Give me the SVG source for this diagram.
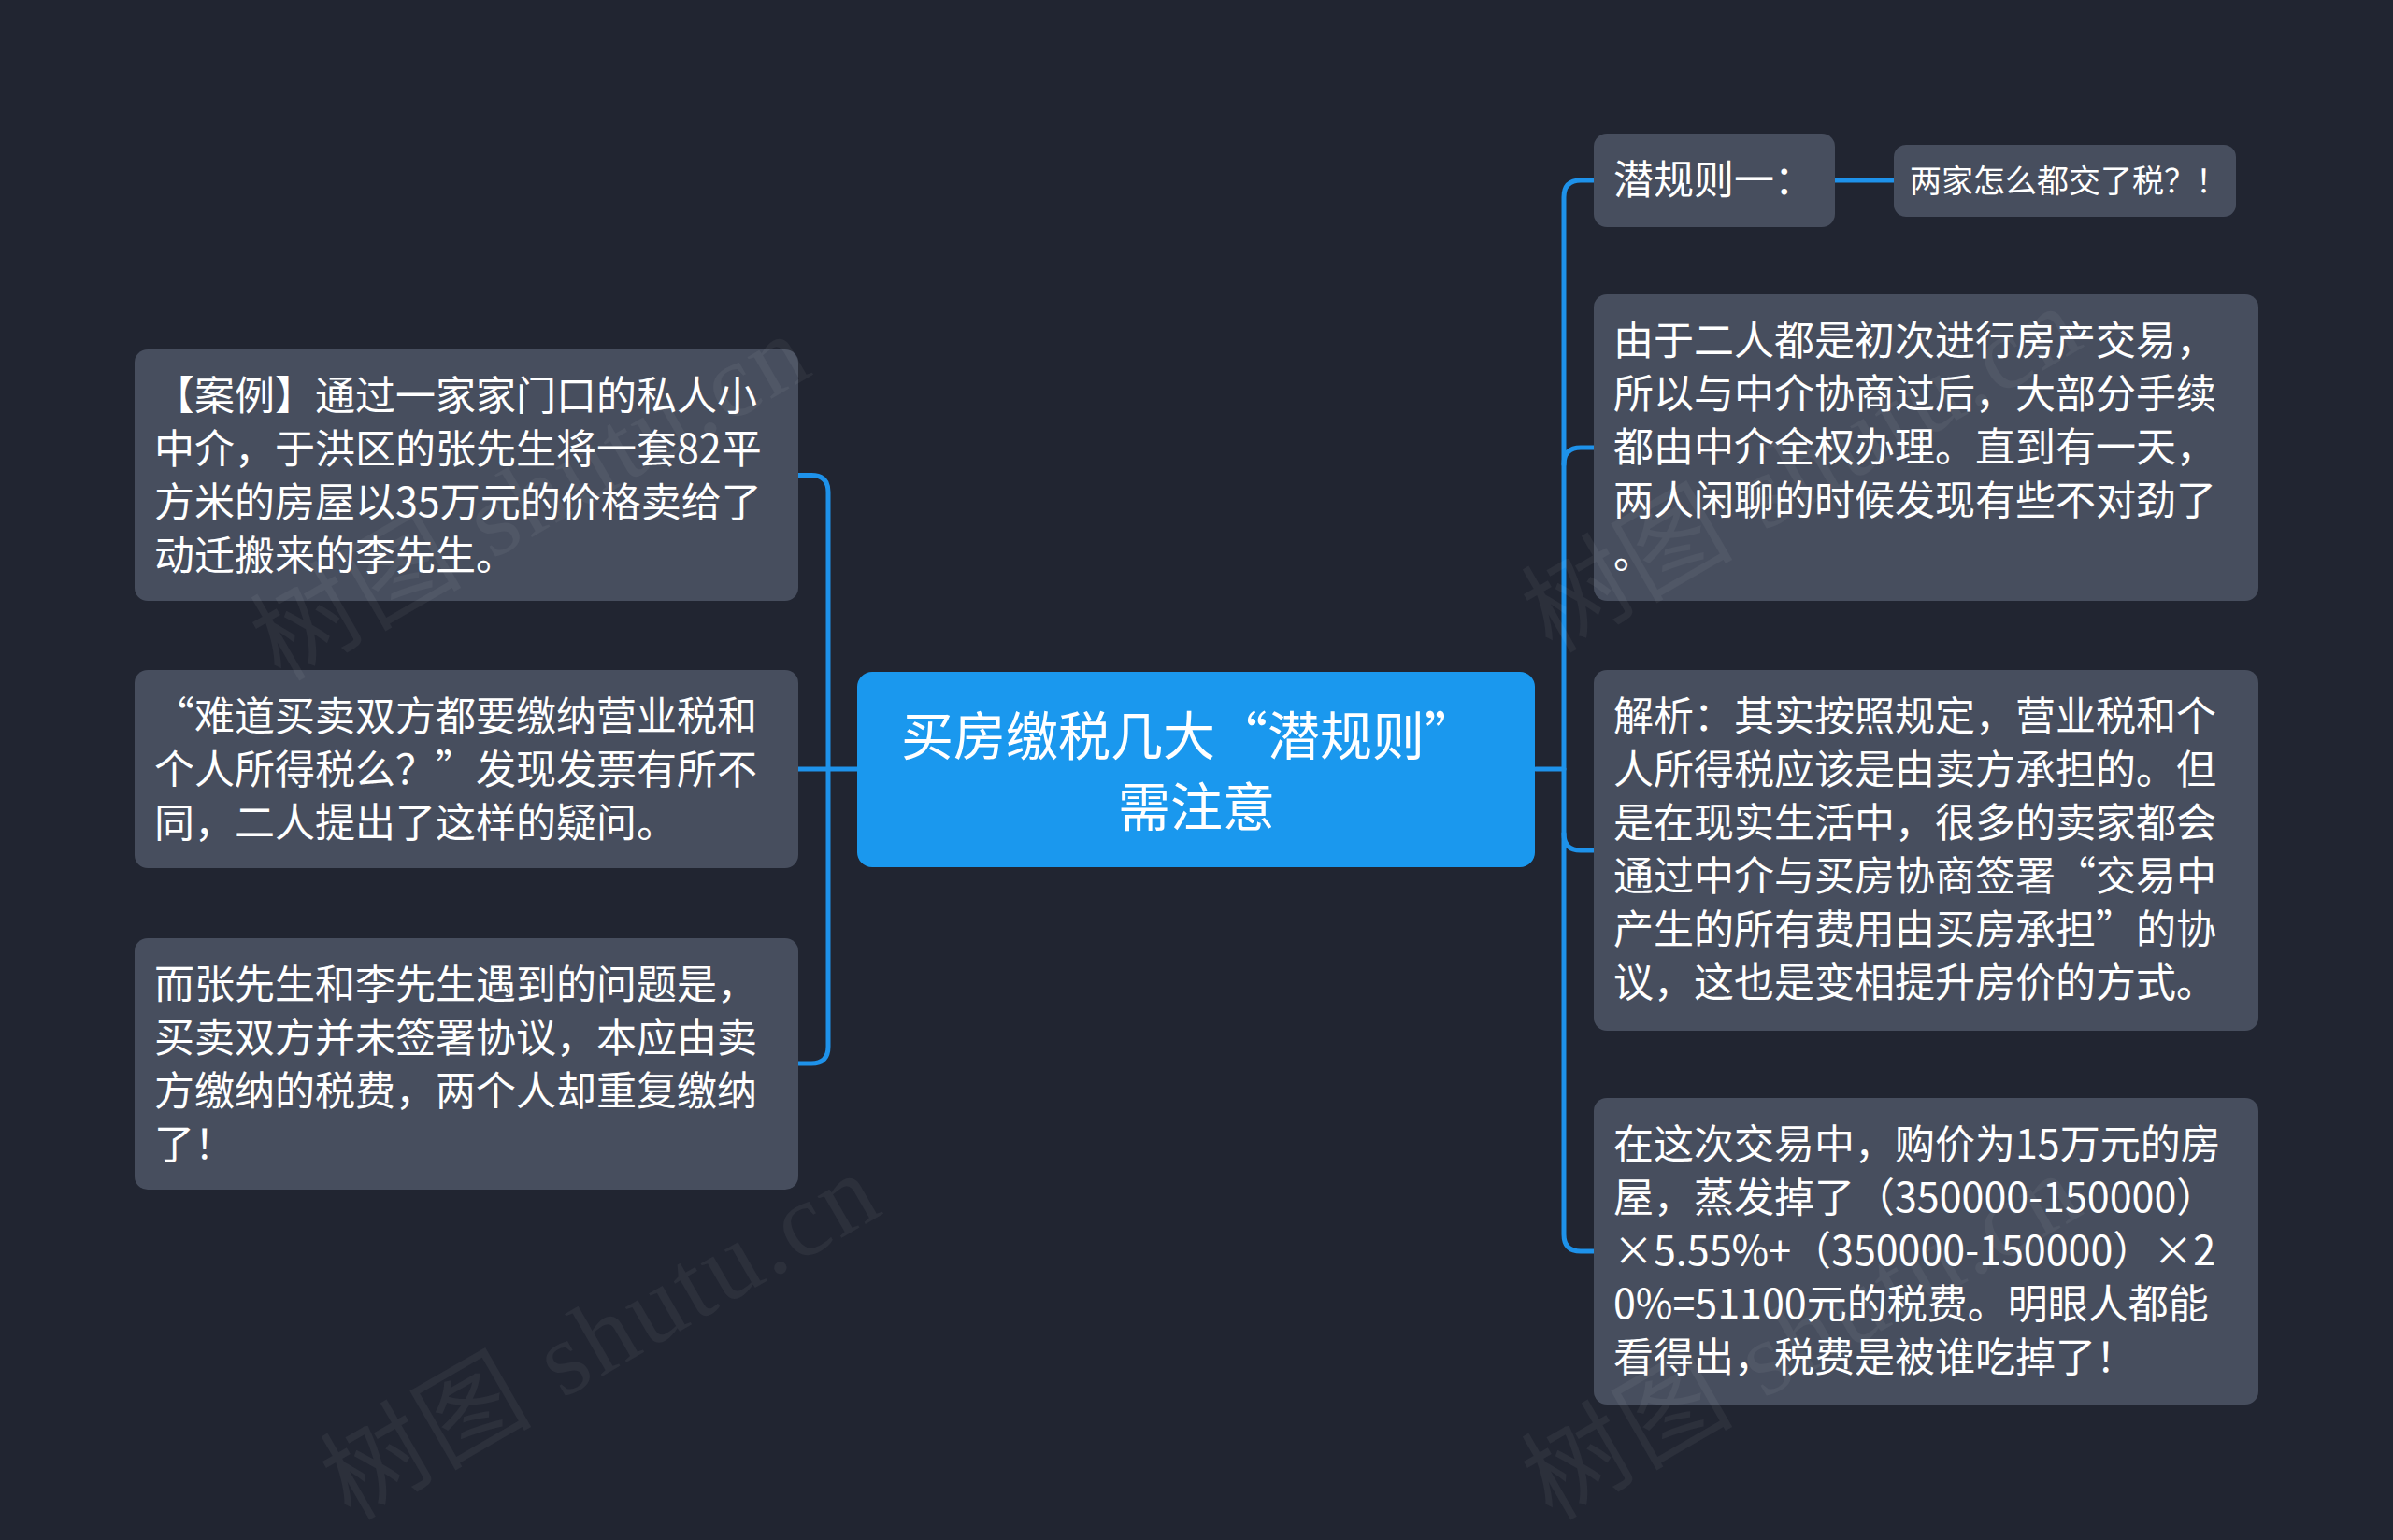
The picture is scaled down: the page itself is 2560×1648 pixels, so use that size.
<svg xmlns="http://www.w3.org/2000/svg" width="2560" height="1648" viewBox="0 0 2560 1648">
<style>
.node{fill:#474e5e}
.root{fill:#1a98ee}
.t{font-family:"Noto Sans CJK SC","Noto Sans",sans-serif;font-size:43px;fill:#ffffff}
.rt{font-family:"Noto Sans CJK SC","Noto Sans",sans-serif;font-size:56px;fill:#ffffff}
.st{font-family:"Noto Sans CJK SC","Noto Sans",sans-serif;font-size:34px;fill:#ffffff}
.conn{fill:none;stroke:#1e92ea;stroke-width:5;stroke-linecap:round}
.wm{font-family:"Liberation Serif","Noto Sans CJK SC",serif;font-size:112px;fill:#ffffff;fill-opacity:0.05}
</style>
<rect width="2560" height="1648" fill="#212531"/>
<g id="connectors">
<path class="conn" d="M854 508.5 H868 Q886 508.5 886 526.5 V1120 Q886 1138 868 1138 H854"/>
<path class="conn" d="M917 823 H854"/>
<path class="conn" d="M1705 193 H1691 Q1673 193 1673 211 V1321 Q1673 1339 1691 1339 H1705"/>
<path class="conn" d="M1673 497 Q1673 479 1691 479 H1705"/>
<path class="conn" d="M1673 892 Q1673 910 1691 910 H1705"/>
<path class="conn" d="M1643 823 H1673"/>
<path class="conn" d="M1963 193 H2026"/>
</g>
<g id="root">
<rect class="root" x="917" y="719" width="725" height="209" rx="16"/>
<text class="rt"><tspan x="964" y="808">买房缴税几大“潜规则”</tspan><tspan x="1280" y="884" text-anchor="middle">需注意</tspan></text>
</g>
<g id="left1">
<rect class="node" x="144" y="374" width="710" height="269" rx="14"/>
<text class="t"><tspan x="165" y="439">【案例】通过一家家门口的私人小</tspan><tspan x="165" y="496">中介，于洪区的张先生将一套82平</tspan><tspan x="165" y="553">方米的房屋以35万元的价格卖给了</tspan><tspan x="165" y="610">动迁搬来的李先生。</tspan></text>
</g>
<g id="left2">
<rect class="node" x="144" y="717" width="710" height="212" rx="14"/>
<text class="t"><tspan x="165" y="782">“难道买卖双方都要缴纳营业税和</tspan><tspan x="165" y="839">个人所得税么？”发现发票有所不</tspan><tspan x="165" y="896">同，二人提出了这样的疑问。</tspan></text>
</g>
<g id="left3">
<rect class="node" x="144" y="1004" width="710" height="269" rx="14"/>
<text class="t"><tspan x="165" y="1069">而张先生和李先生遇到的问题是，</tspan><tspan x="165" y="1126">买卖双方并未签署协议，本应由卖</tspan><tspan x="165" y="1183">方缴纳的税费，两个人却重复缴纳</tspan><tspan x="165" y="1240">了！</tspan></text>
</g>
<g id="right1">
<rect class="node" x="1705" y="143" width="258" height="100" rx="14"/>
<text class="t" x="1726" y="208">潜规则一：</text>
</g>
<g id="right1a">
<rect class="node" x="2026" y="155" width="366" height="77" rx="13"/>
<text class="st" x="2043" y="206">两家怎么都交了税？！</text>
</g>
<g id="right2">
<rect class="node" x="1705" y="315" width="711" height="328" rx="14"/>
<text class="t"><tspan x="1726" y="380">由于二人都是初次进行房产交易，</tspan><tspan x="1726" y="437">所以与中介协商过后，大部分手续</tspan><tspan x="1726" y="494">都由中介全权办理。直到有一天，</tspan><tspan x="1726" y="551">两人闲聊的时候发现有些不对劲了</tspan><tspan x="1726" y="608">。</tspan></text>
</g>
<g id="right3">
<rect class="node" x="1705" y="717" width="711" height="386" rx="14"/>
<text class="t"><tspan x="1726" y="782">解析：其实按照规定，营业税和个</tspan><tspan x="1726" y="839">人所得税应该是由卖方承担的。但</tspan><tspan x="1726" y="896">是在现实生活中，很多的卖家都会</tspan><tspan x="1726" y="953">通过中介与买房协商签署“交易中</tspan><tspan x="1726" y="1010">产生的所有费用由买房承担”的协</tspan><tspan x="1726" y="1067">议，这也是变相提升房价的方式。</tspan></text>
</g>
<g id="right4">
<rect class="node" x="1705" y="1175" width="711" height="328" rx="14"/>
<text class="t"><tspan x="1726" y="1240">在这次交易中，购价为15万元的房</tspan><tspan x="1726" y="1297">屋，蒸发掉了（350000-150000）</tspan><tspan x="1726" y="1354">×5.55%+（350000-150000）×2</tspan><tspan x="1726" y="1411">0%=51100元的税费。明眼人都能</tspan><tspan x="1726" y="1468">看得出，税费是被谁吃掉了！</tspan></text>
</g>
<g id="watermarks">
<text class="wm" transform="translate(300 730) rotate(-30)" textLength="660" lengthAdjust="spacing">树图 shutu.cn</text>
<text class="wm" transform="translate(375 1628) rotate(-30)" textLength="660" lengthAdjust="spacing">树图 shutu.cn</text>
<text class="wm" transform="translate(1660 700) rotate(-30)" textLength="660" lengthAdjust="spacing">树图 shutu.cn</text>
<text class="wm" transform="translate(1660 1628) rotate(-30)" textLength="660" lengthAdjust="spacing">树图 shutu.cn</text>
</g>
</svg>
